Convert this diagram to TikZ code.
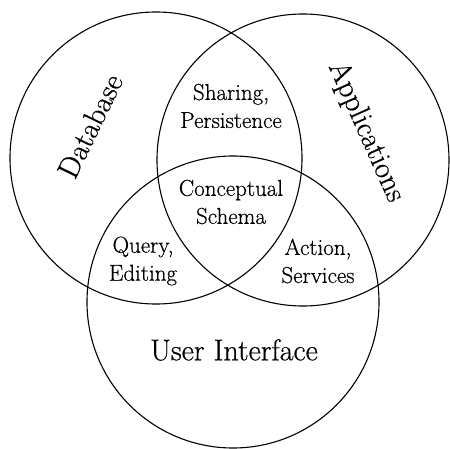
\documentclass[tikz,border=0pt]{standalone}
\usepackage{fontspec}
\setmainfont{Latin Modern Roman}[UprightFeatures={FakeBold=0.5}]
\begin{document}
\begin{tikzpicture}[x=1pt,y=1pt,
  setcircle/.style={circle,draw,line width=1.1pt,minimum size=292pt,inner sep=0pt},
  region/.style={align=center,font=\fontsize{23}{28}\selectfont},
  bigname/.style={font=\fontsize{30}{32}\selectfont}]
\useasboundingbox (0,0) rectangle (450,448);
% the three overlapping sets
\node[setcircle] (db)  at (156,290) {};
\node[setcircle] (app) at (303,288) {};
\node[setcircle] (ui)  at (233,146) {};
% set names
\node[bigname,rotate=64]  (dbname)  at (90,322)  {Database};
\node[bigname,rotate=-66] (appname) at (366,316) {Applications};
\node[bigname]            (uiname)  at (234,98)  {User Interface};
% overlap labels
\node[region] (share)  at (231,342) {Sharing,\\Persistence};
\node[region] (schema) at (231,246) {Conceptual\\Schema};
\node[region] (query)  at (143,187) {Query,\\Editing};
\node[region] (action) at (318,187) {Action,\\Services};
\end{tikzpicture}
\end{document}
